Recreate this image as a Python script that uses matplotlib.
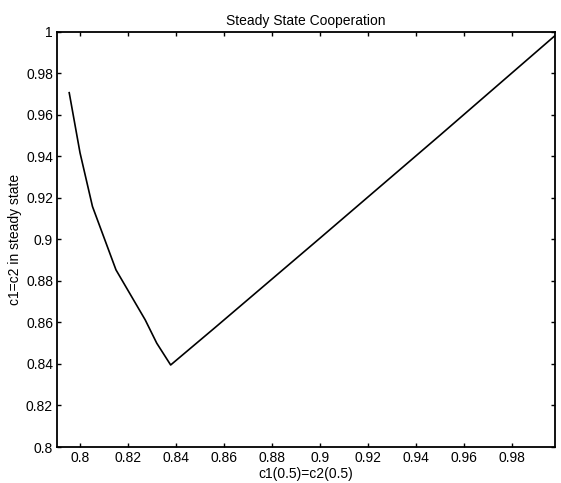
import matplotlib.pyplot as plt

# curve
c_init = [0.7955, 0.800, 0.8052, 0.8150, 0.8272, 0.8320, 0.8378, 0.8563, 0.90, 0.95, 0.998]
c_steady = [0.9706, 0.9417, 0.9158, 0.8853, 0.8612, 0.8500, 0.8395, 0.8575, 0.9005, 0.950, 0.998]

xticks = [0.8, 0.82, 0.84, 0.86, 0.88, 0.9, 0.92, 0.94, 0.96, 0.98]
yticks = [0.8, 0.82, 0.84, 0.86, 0.88, 0.9, 0.92, 0.94, 0.96, 0.98, 1]

plt.rcParams['font.family'] = ['Liberation Sans', 'DejaVu Sans']

fig = plt.figure(figsize=(5.61, 4.83), dpi=100)
ax = fig.add_axes([0.102, 0.0745, 0.887, 0.86])
ax.plot(c_init, c_steady, color='black', linewidth=1.2)
ax.set_xlim(0.7905, 0.998)
ax.set_ylim(0.8, 1.0)
ax.set_xticks(xticks)
ax.set_xticklabels([f'{v:g}' for v in xticks])
ax.set_yticks(yticks)
ax.set_yticklabels([f'{v:g}' for v in yticks])
ax.tick_params(direction='in', top=True, right=True, labelsize=10, length=3, width=1, pad=3)
for s in ax.spines.values():
    s.set_linewidth(1.3)
ax.set_title('Steady State Cooperation', fontsize=10, pad=5)
ax.set_xlabel('c1(0.5)=c2(0.5)', fontsize=10, labelpad=1)
ax.set_ylabel('c1=c2 in steady state', fontsize=10, labelpad=3)
fig.savefig('out.png', dpi=100)
